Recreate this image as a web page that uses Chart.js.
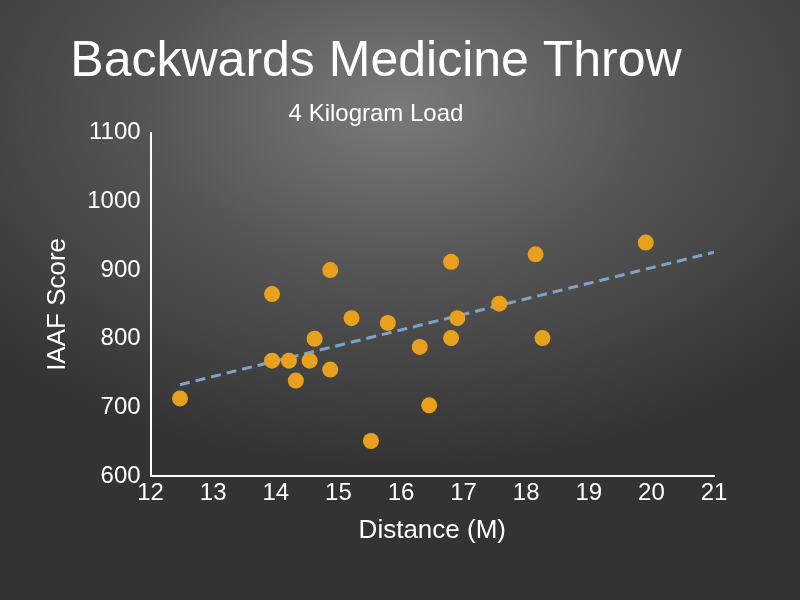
<!DOCTYPE html>
<html>
<head>
<meta charset="utf-8">
<script src="https://cdn.jsdelivr.net/npm/chart.js@4"></script>
<style>
  html, body { margin: 0; padding: 0; }
  body {
    width: 800px; height: 600px;
    background: radial-gradient(ellipse 70% 60% at 50% 18%, #7a7a7a 0%, #555 45%, #333 100%);
  }
  #wrap { width: 800px; height: 600px; }
</style>
</head>
<body>
<div id="wrap"><canvas id="chart"></canvas></div>
<script>
// Distance (m) vs IAAF score, 4 kg load
const distance = [12.47, 13.94, 13.94, 14.21, 14.32, 14.54, 14.62, 14.87, 14.87, 15.21, 15.52,
                  15.79, 16.30, 16.45, 16.80, 16.80, 16.90, 17.57, 18.15, 18.26, 19.91];
const score = [713, 865, 768, 768, 739, 768, 800, 900, 755, 830, 651,
               823, 788, 703, 912, 801, 830, 851, 923, 801, 940];
const trendX = [12.47, 21];
const trendY = [733, 926];

const white = '#ffffff';
const font = 'Liberation Sans, Arial, sans-serif';

new Chart(document.getElementById('chart'), {
    type: 'scatter',
    data: {
        datasets: [{
            data: distance.map((x, i) => ({ x: x, y: score[i] })),
            backgroundColor: '#E9A11D',
            borderWidth: 0,
            pointRadius: 8
        }, {
            type: 'line',
            data: trendX.map((x, i) => ({ x: x, y: trendY[i] })),
            borderColor: '#7FA3C8',
            borderWidth: 3,
            borderDash: [10, 6],
            pointRadius: 0,
            fill: false
        }]
    },
    options: {
        responsive: true,
        maintainAspectRatio: false,
        animation: false,
        layout: { padding: { left: 38, right: 86, top: 10, bottom: 50 } },
        plugins: {
            legend: { display: false },
            tooltip: { enabled: false },
            title: {
                display: true,
                text: 'Backwards Medicine Throw',
                color: white,
                font: { family: font, size: 50, weight: 'normal' },
                padding: { top: 22, bottom: 8 }
            },
            subtitle: {
                display: true,
                text: '4 Kilogram Load',
                color: white,
                font: { family: font, size: 24 },
                padding: { bottom: 4 }
            }
        },
        scales: {
            x: {
                type: 'linear',
                min: 12, max: 21,
                ticks: { stepSize: 1, color: white, font: { family: font, size: 24 } },
                grid: { display: false, drawTicks: false },
                border: { color: white, width: 2 },
                title: { display: true, text: 'Distance (M)', color: white, font: { family: font, size: 26 } }
            },
            y: {
                min: 600, max: 1100,
                ticks: { stepSize: 100, color: white, padding: 10, font: { family: font, size: 24 },
                         callback: v => String(v) },
                grid: { display: false, drawTicks: false },
                border: { color: white, width: 2 },
                title: { display: true, text: 'IAAF Score', color: white, font: { family: font, size: 26 } }
            }
        }
    }
});
</script>
</body>
</html>
